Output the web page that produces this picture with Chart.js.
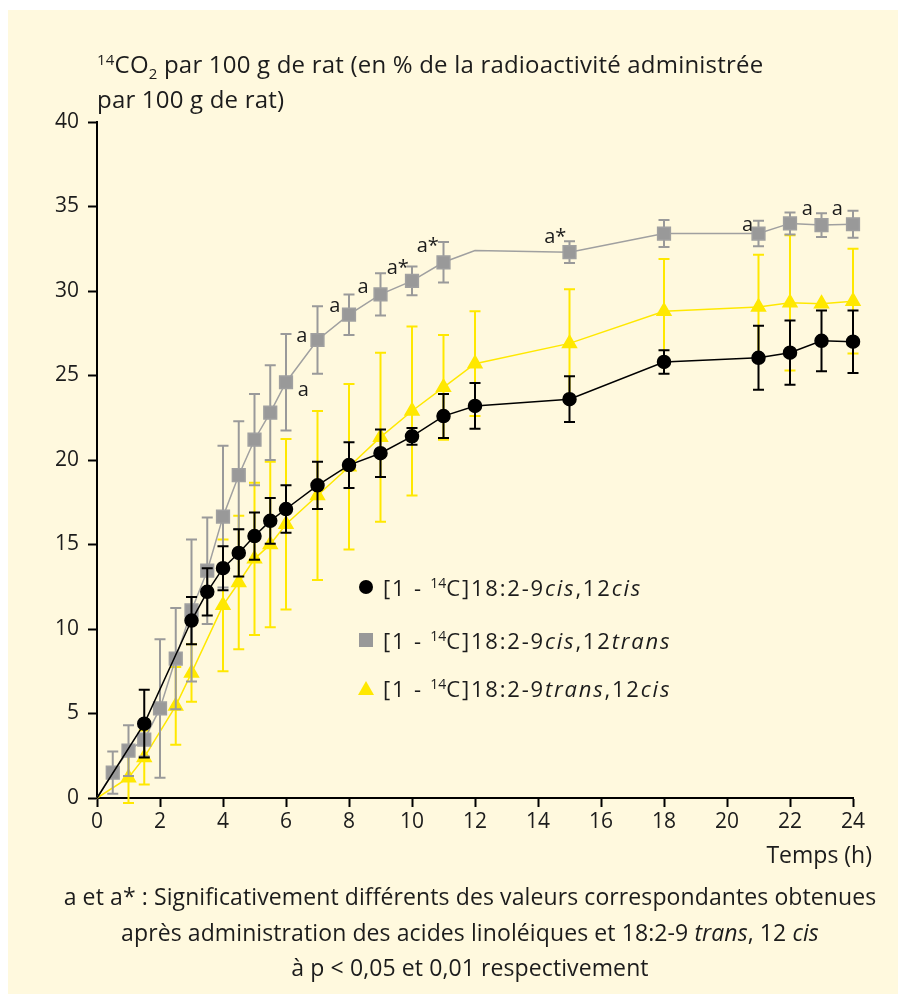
<!DOCTYPE html>
<html>
<head>
<meta charset="utf-8">
<script src="https://cdn.jsdelivr.net/npm/chart.js@4.4.0/dist/chart.umd.min.js"></script>
<style>
body { margin: 0; background: #fff; font-family: 'Open Sans', sans-serif; color: #1c1c1c; }
#panel { position: absolute; left: 8px; top: 10px; width: 890px; height: 984px; background: #FFF9DE; }
#chart { position: absolute; left: 0; top: 0; }
.txt { position: absolute; font-size: 23px; white-space: nowrap; }
.txt sup { font-size: 15px; vertical-align: 8px; line-height: 0; }
.txt sub { font-size: 15px; vertical-align: -6px; line-height: 0; }
#title { left: 89px; top: 36px; line-height: 35px; font-size: 24px; letter-spacing: 0.2px; }
#xlabel { right: 26px; top: 829px; line-height: 31px; }
#note { left: 0; width: 924px; top: 869px; text-align: center; line-height: 35.5px; letter-spacing: 0.1px; }
.leg { position: absolute; left: 375px; font-size: 22px; white-space: nowrap; line-height: 24px; letter-spacing: 1.8px; }
.leg sup { font-size: 14px; vertical-align: 8px; line-height: 0; letter-spacing: 0; }
.mk { position: absolute; }
</style>
</head>
<body>
<div id="panel">
  <canvas id="chart" width="890" height="984"></canvas>
  <div class="txt" id="title"><sup>14</sup>CO<sub>2</sub> par 100 g de rat (en % de la radioactivité administrée<br>par 100 g de rat)</div>
  <div class="txt" id="xlabel">Temps (h)</div>
  <div class="txt" id="note">a et a* : Significativement différents des valeurs correspondantes obtenues<br>après administration des acides linoléiques et 18:2-9 <i>trans</i>, 12 <i>cis</i><br>à p &lt; 0,05 et 0,01 respectivement</div>

  <div class="mk" style="left:351px; top:570px; width:14px; height:14px; border-radius:50%; background:#000;"></div>
  <div class="leg" style="top:565px;">[1 - <sup>14</sup>C]18:2-9<i>cis</i>,12<i>cis</i></div>
  <div class="mk" style="left:351px; top:623px; width:14px; height:14px; background:#999;"></div>
  <div class="leg" style="top:618px;">[1 - <sup>14</sup>C]18:2-9<i>cis</i>,12<i>trans</i></div>
  <div class="mk" style="left:350px; top:671px; width:0; height:0; border-left:8px solid transparent; border-right:8px solid transparent; border-bottom:14px solid #FFE800;"></div>
  <div class="leg" style="top:666px;">[1 - <sup>14</sup>C]18:2-9<i>trans</i>,12<i>cis</i></div>
</div>

<script>
// 18:2-9cis,12cis (linoleic)
const cisCisHours = [0, 1.5, 3, 3.5, 4, 4.5, 5, 5.5, 6, 7, 8, 9, 10, 11, 12, 15, 18, 21, 22, 23, 24];
const cisCisMean = [0, 4.4, 10.5, 12.2, 13.6, 14.5, 15.5, 16.4, 17.1, 18.5, 19.7, 20.4, 21.4, 22.6, 23.2, 23.6, 25.8, 26.05, 26.35, 27.05, 27.0];
const cisCisErr = [0, 2.0, 1.4, 1.4, 1.3, 1.4, 1.4, 1.35, 1.4, 1.4, 1.35, 1.4, 0.5, 1.3, 1.35, 1.35, 0.7, 1.9, 1.9, 1.8, 1.85];

// 18:2-9cis,12trans
const cisTransHours = [0, 0.5, 1, 1.5, 2, 2.5, 3, 3.5, 4, 4.5, 5, 5.5, 6, 7, 8, 9, 10, 11, 12, 15, 18, 21, 22, 23, 24];
const cisTransMean = [0, 1.5, 2.8, 3.45, 5.3, 8.25, 11.1, 13.45, 16.65, 19.1, 21.2, 22.8, 24.6, 27.1, 28.6, 29.8, 30.6, 31.7, 32.4, 32.3, 33.4, 33.4, 34.0, 33.9, 33.95];
const cisTransErr = [0, 1.25, 1.5, 1.0, 4.1, 3.0, 4.2, 3.15, 4.2, 3.2, 2.7, 2.8, 2.85, 2.0, 1.2, 1.25, 0.85, 1.2, 0, 0.65, 0.8, 0.75, 0.65, 0.7, 0.8];

// 18:2-9trans,12cis
const transCisHours = [0, 1, 1.5, 2.5, 3, 4, 4.5, 5, 5.5, 6, 7, 8, 9, 10, 11, 12, 15, 18, 21, 22, 23, 24];
const transCisMean = [0, 1.2, 2.4, 5.45, 7.4, 11.4, 12.75, 14.15, 15.0, 16.2, 17.9, 19.6, 21.35, 22.9, 24.3, 25.7, 26.9, 28.8, 29.05, 29.3, 29.25, 29.4];
const transCisErr = [0, 1.5, 1.6, 2.3, 1.7, 3.9, 3.95, 4.5, 4.9, 5.05, 5.0, 4.9, 5.0, 5.0, 3.1, 3.1, 3.2, 3.1, 3.1, 4.0, 0, 3.1];

// significance marks on the cis,trans curve
const marksX = [6.5, 6.55, 7.55, 8.45, 9.55, 10.5, 14.55, 20.65, 22.55, 23.5];
const marksY = [27.3, 24.1, 29.1, 30.2, 31.35, 32.65, 33.2, 33.9, 34.85, 34.85];
const marksText = ['a', 'a', 'a', 'a', 'a*', 'a*', 'a*', 'a', 'a', 'a'];

const xTicks = [0, 24, 2];
const yTicks = [0, 40, 5];

function points(xs, ys) {
    return xs.map((x, i) => ({x: x, y: ys[i]}));
}
function radii(xs, r) {
    // no marker at the origin
    return xs.map(x => x === 0 ? 0 : r);
}

const errorBars = {
    id: 'errorBars',
    beforeDatasetDraw(chart, args) {
        const ds = chart.data.datasets[args.index];
        if (!ds.errors) return;
        const ctx = chart.ctx;
        const ys = chart.scales.y;
        ctx.save();
        ctx.strokeStyle = ds.errorColor;
        ctx.lineWidth = 2;
        args.meta.data.forEach((pt, i) => {
            const e = ds.errors[i];
            if (!e) return;
            const v = ds.data[i].y;
            const top = ys.getPixelForValue(v + e);
            const bot = ys.getPixelForValue(v - e);
            ctx.beginPath();
            ctx.moveTo(pt.x, top); ctx.lineTo(pt.x, bot);
            ctx.moveTo(pt.x - 5.5, top); ctx.lineTo(pt.x + 5.5, top);
            ctx.moveTo(pt.x - 5.5, bot); ctx.lineTo(pt.x + 5.5, bot);
            ctx.stroke();
        });
        ctx.restore();
    }
};

const sigMarks = {
    id: 'sigMarks',
    afterDatasetsDraw(chart) {
        const ctx = chart.ctx;
        ctx.save();
        ctx.fillStyle = '#1c1c1c';
        ctx.font = '20px "Open Sans"';
        ctx.textAlign = 'center';
        ctx.textBaseline = 'middle';
        marksX.forEach((x, i) => {
            ctx.fillText(marksText[i], chart.scales.x.getPixelForValue(x), chart.scales.y.getPixelForValue(marksY[i]));
        });
        ctx.restore();
    }
};

const ctx = document.getElementById('chart').getContext('2d');

const chart = new Chart(ctx, {
    type: 'line',
    data: {
        datasets: [{
            label: '[1 - 14C]18:2-9cis,12cis',
            data: points(cisCisHours, cisCisMean),
            errors: cisCisErr,
            errorColor: '#000',
            borderColor: '#000',
            backgroundColor: '#000',
            borderWidth: 1.5,
            pointStyle: 'circle',
            pointRadius: radii(cisCisHours, 6.5),
            tension: 0,
            clip: false
        }, {
            label: '[1 - 14C]18:2-9cis,12trans',
            data: points(cisTransHours, cisTransMean),
            errors: cisTransErr,
            errorColor: '#9a9a9a',
            borderColor: '#a0a0a0',
            backgroundColor: '#999',
            borderWidth: 1.5,
            pointStyle: 'rect',
            pointRadius: cisTransHours.map((x, i) => (x === 0 || cisTransErr[i] === 0) ? 0 : 9),
            tension: 0,
            clip: false
        }, {
            label: '[1 - 14C]18:2-9trans,12cis',
            data: points(transCisHours, transCisMean),
            errors: transCisErr,
            errorColor: '#FFE800',
            borderColor: '#FFE800',
            backgroundColor: '#FFE800',
            borderWidth: 1.5,
            pointStyle: 'triangle',
            pointRadius: radii(transCisHours, 8),
            tension: 0,
            clip: false
        }]
    },
    options: {
        responsive: false,
        animation: false,
        devicePixelRatio: 1,
        layout: {padding: {top: 112, right: 45, bottom: 146, left: 0}},
        plugins: {legend: {display: false}, tooltip: {enabled: false}},
        elements: {point: {borderWidth: 0}},
        scales: {
            x: {
                type: 'linear',
                min: xTicks[0], max: xTicks[1],
                afterFit: s => { s.height = 50; },
                border: {color: '#000', width: 2},
                grid: {drawOnChartArea: false, tickLength: 9, tickWidth: 2, tickColor: '#000'},
                ticks: {stepSize: xTicks[2], padding: 2, color: '#1c1c1c', font: {family: 'Open Sans', size: 21}}
            },
            y: {
                min: yTicks[0], max: yTicks[1],
                afterFit: s => { s.width = 89; },
                border: {color: '#000', width: 2},
                grid: {drawOnChartArea: false, tickLength: 9, tickWidth: 2, tickColor: '#000'},
                ticks: {stepSize: yTicks[2], padding: 9, color: '#1c1c1c', font: {family: 'Open Sans', size: 21}}
            }
        }
    },
    plugins: [errorBars, sigMarks]
});
</script>
</body>
</html>
